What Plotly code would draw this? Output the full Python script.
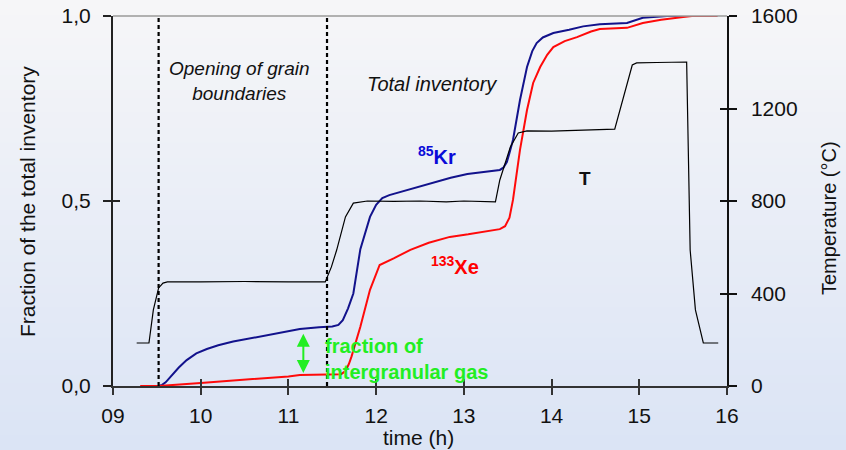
import plotly.graph_objects as go

# ---------------- data ----------------
x_ticks = [9, 10, 11, 12, 13, 14, 15, 16]
x_tick_text = ["09", "10", "11", "12", "13", "14", "15", "16"]
frac_ticks = [0, 0.5, 1.0]
frac_tick_text = ["0,0", "0,5", "1,0"]
temp_ticks = [0, 400, 800, 1200, 1600]

boundary_times = [9.52, 11.44]

kr_time = [9.52, 9.56, 9.6, 9.67, 9.75, 9.84, 9.95, 10.07, 10.2, 10.37, 10.55, 10.76, 10.95, 11.13,
           11.35, 11.5, 11.57, 11.62, 11.68, 11.74, 11.82, 11.93, 12.0, 12.07, 12.15, 12.27, 12.45,
           12.65, 12.85, 13.04, 13.25, 13.41, 13.45, 13.49, 13.52, 13.56, 13.64, 13.72, 13.78,
           13.83, 13.9, 14.02, 14.2, 14.36, 14.55, 14.86, 15.04, 15.2, 15.32, 15.89]
kr_frac = [0.0, 0.003, 0.01, 0.03, 0.05, 0.07, 0.088, 0.10, 0.11, 0.12, 0.128, 0.138, 0.147, 0.154,
           0.159, 0.161, 0.165, 0.178, 0.21, 0.25, 0.37, 0.457, 0.49, 0.508, 0.516, 0.524, 0.538,
           0.551, 0.563, 0.573, 0.579, 0.584, 0.59, 0.605, 0.63, 0.665, 0.773, 0.862, 0.905,
           0.927, 0.942, 0.954, 0.963, 0.972, 0.978, 0.981, 0.995, 0.998, 1.0, 1.0]

xe_time = [9.31, 9.52, 10.0, 10.5, 11.0, 11.13, 11.4, 11.6, 11.65, 11.69, 11.72, 11.82, 11.93,
           12.04, 12.2, 12.39, 12.6, 12.84, 13.05, 13.22, 13.41, 13.47, 13.52, 13.56, 13.64,
           13.72, 13.79, 13.87, 13.95, 14.02, 14.15, 14.29, 14.45, 14.55, 14.86, 15.04, 15.25,
           15.5, 15.6, 15.89]
xe_frac = [0.0, 0.0, 0.008, 0.016, 0.026, 0.03, 0.031, 0.032, 0.04, 0.06, 0.08, 0.16, 0.26,
           0.327, 0.345, 0.368, 0.387, 0.403, 0.41, 0.416, 0.424, 0.432, 0.455, 0.503, 0.638,
           0.746, 0.819, 0.862, 0.895, 0.916, 0.932, 0.943, 0.958, 0.965, 0.968, 0.981, 0.99,
           0.997, 1.0, 1.0]

t_time = [9.27, 9.41, 9.46, 9.52, 9.57, 9.62, 10.0, 10.5, 11.0, 11.3, 11.42, 11.49, 11.55, 11.65,
          11.74, 11.9, 12.2, 12.5, 12.8, 13.0, 13.36, 13.41, 13.53, 13.62, 13.72, 14.0, 14.3,
          14.72, 14.92, 14.97, 15.2, 15.54, 15.58, 15.64, 15.73, 15.9]
t_temp = [186, 186, 329, 424, 445, 450, 450, 452, 450, 452, 450, 515, 588, 731,
          791, 800, 798, 800, 796, 800, 796, 891, 1034, 1094, 1103, 1102, 1105,
          1111, 1388, 1397, 1399, 1401, 588, 329, 186, 186]

arrow_time = 11.17
arrow_top = 0.145
arrow_bottom = 0.035

# ---------------- figure ----------------
FONT = "Arial, Liberation Sans, sans-serif"
fig = go.Figure()

fig.add_trace(go.Scatter(x=t_time, y=t_temp, yaxis="y2", mode="lines",
                         line=dict(color="#000000", width=1.2), showlegend=False))
fig.add_trace(go.Scatter(x=kr_time, y=kr_frac, mode="lines",
                         line=dict(color="#12128c", width=2), showlegend=False))
fig.add_trace(go.Scatter(x=xe_time, y=xe_frac, mode="lines",
                         line=dict(color="#ff0a0a", width=2), showlegend=False))
# empty helpers so that the crossing-tick axes are drawn
fig.add_trace(go.Scatter(x=[], y=[], xaxis="x2", yaxis="y", showlegend=False))
fig.add_trace(go.Scatter(x=[], y=[], xaxis="x", yaxis="y3", showlegend=False))
fig.add_trace(go.Scatter(x=[], y=[], xaxis="x", yaxis="y4", showlegend=False))

# background gradient (vertical)
top = (246, 246, 248)
bot = (219, 228, 245)
n = 60
y0p, y1p = -64 / 370, 1 + 16 / 370
x0p, x1p = -113 / 614, 1 + 119 / 614
shapes = []
for i in range(n):
    f = i / (n - 1)
    c = tuple(round(bot[k] + (top[k] - bot[k]) * f) for k in range(3))
    ya = y0p + (y1p - y0p) * i / n
    yb = y0p + (y1p - y0p) * (i + 1) / n + 0.002
    shapes.append(dict(type="rect", xref="paper", yref="paper", x0=x0p, x1=x1p, y0=ya, y1=yb,
                       fillcolor="rgb(%d,%d,%d)" % c, line=dict(width=0), layer="below"))
# top border line
shapes.append(dict(type="line", xref="paper", yref="paper", x0=0, x1=1, y0=1, y1=1,
                   line=dict(color="#9a9a9a", width=1.5)))
for bt in boundary_times:
    shapes.append(dict(type="line", xref="x", yref="y", x0=bt, x1=bt, y0=0, y1=1,
                       line=dict(color="#000000", width=2.2, dash="4px,3px")))

tickfont = dict(family=FONT, size=21, color="#111111")
ax_common = dict(showgrid=False, zeroline=False, automargin=False)

fig.update_layout(
    width=846, height=450,
    margin=dict(l=113, r=119, t=16, b=64, autoexpand=False),
    paper_bgcolor="#eef1f8", plot_bgcolor="rgba(0,0,0,0)",
    shapes=shapes,
    xaxis=dict(range=[9, 16], tickvals=x_ticks, ticktext=x_tick_text, tickfont=tickfont,
               showline=True, linecolor="#333333", linewidth=2, ticks="outside", ticklen=7,
               tickwidth=1.5, tickcolor="#333333", ticklabelstandoff=3, **ax_common),
    xaxis2=dict(range=[9, 16], tickvals=x_ticks, overlaying="x", anchor="y", side="bottom",
                showticklabels=False, ticks="inside", ticklen=7, tickwidth=1.5,
                tickcolor="#333333", showline=False, **ax_common),
    yaxis=dict(range=[0, 1], tickvals=frac_ticks, ticktext=frac_tick_text, tickfont=tickfont,
               showline=True, linecolor="#222222", linewidth=2, ticks="outside", ticklen=8,
               tickwidth=1.5, tickcolor="#222222", ticklabelstandoff=8, **ax_common),
    yaxis2=dict(range=[0, 1600], tickvals=temp_ticks, overlaying="y", side="right", anchor="x",
                tickfont=tickfont, showline=True, linecolor="#111111", linewidth=1.5,
                ticks="outside", ticklen=8, tickwidth=1.5, tickcolor="#111111",
                ticklabelstandoff=10, **ax_common),
    yaxis3=dict(range=[0, 1], tickvals=frac_ticks, overlaying="y", side="left", anchor="x",
                showticklabels=False, ticks="inside", ticklen=7, tickwidth=1.5,
                tickcolor="#222222", showline=False, **ax_common),
    yaxis4=dict(range=[0, 1600], tickvals=temp_ticks, overlaying="y", side="right", anchor="x",
                showticklabels=False, ticks="inside", ticklen=7, tickwidth=1.5,
                tickcolor="#111111", showline=False, **ax_common),
)

ann = []
C = dict(xanchor="center", yanchor="middle", showarrow=False)
# axis titles
ann.append(dict(xref="paper", yref="paper", x=(27 - 113) / 614, y=(386 - 202) / 370,
                text="Fraction of the total inventory", textangle=-90,
                font=dict(family=FONT, size=21, color="#111111"), **C))
ann.append(dict(xref="paper", yref="paper", x=(829 - 113) / 614, y=(386 - 218) / 370,
                text="Temperature (°C)", textangle=-90,
                font=dict(family=FONT, size=20, color="#111111"), **C))
ann.append(dict(xref="paper", yref="paper", x=(418 - 113) / 614, y=(386 - 437) / 370,
                text="time (h)",
                font=dict(family=FONT, size=21, color="#111111"), **C))
# labels
ann.append(dict(xref="x", yref="y", x=10.437, y=0.823, text="<i>Opening of grain<br>boundaries</i>",
                font=dict(family=FONT, size=19, color="#111111"), **C))
ann.append(dict(xref="x", yref="y", x=12.637, y=0.816, text="<i>Total inventory</i>",
                font=dict(family=FONT, size=20, color="#111111"), **C))
ann.append(dict(xref="x", yref="y", x=12.694, y=0.622, text="<b><sup>85</sup>Kr</b>",
                font=dict(family=FONT, size=20, color="#0a0ad8"), **C))
ann.append(dict(xref="x", yref="y", x=12.9, y=0.327, text="<b><sup>133</sup>Xe</b>",
                font=dict(family=FONT, size=20, color="#ff0000"), **C))
ann.append(dict(xref="x", yref="y", x=14.38, y=0.562, text="<b>T</b>",
                font=dict(family=FONT, size=19, color="#111111"), **C))
ann.append(dict(xref="x", yref="y", x=11.394, y=0.0743, xanchor="left", yanchor="middle",
                text="<b>fraction of<br>intergranular gas</b>", align="left", showarrow=False,
                font=dict(family=FONT, size=20, color="#22ee22")))
# green double arrow
ann.append(dict(xref="x", yref="y", axref="x", ayref="y", x=arrow_time, y=arrow_bottom,
                ax=arrow_time, ay=arrow_top, text="", showarrow=True, arrowside="end+start",
                arrowhead=2, arrowsize=1.3, arrowwidth=2, arrowcolor="#22ee22"))
fig.update_layout(annotations=ann)

fig.write_html("out.html")
